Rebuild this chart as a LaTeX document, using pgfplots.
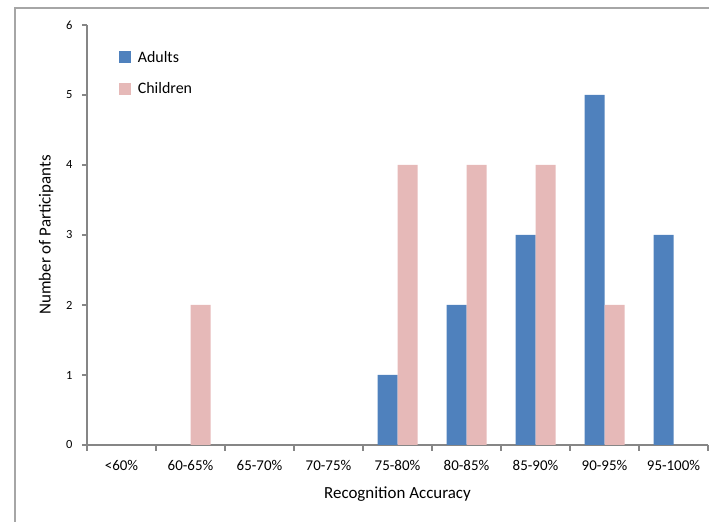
\documentclass[border=0pt]{standalone}
\usepackage{fontspec}
\setmainfont{Carlito}
\usepackage{pgfplots}
\pgfplotsset{compat=1.18}
\definecolor{adultc}{HTML}{4F81BD}
\definecolor{childc}{HTML}{E6B9B8}
\definecolor{axc}{HTML}{868686}
\begin{document}
\begin{tikzpicture}
\begin{axis}[
  at={(87bp,77bp)}, anchor=south west,
  scale only axis, width=621bp, height=420bp,
  xmin=-0.5, xmax=8.5, ymin=0, ymax=6,
  axis x line*=bottom, axis y line*=left,
  axis line style={axc, line width=1.2bp, -},
  ybar=0pt, bar width=20bp,
  xtick={0,...,8},
  xticklabels={<60\%,60-65\%,65-70\%,70-75\%,75-80\%,80-85\%,85-90\%,90-95\%,95-100\%},
  minor xtick={-0.5,0.5,...,8.5},
  major x tick style={draw=none},
  minor x tick style={axc, line width=1.2bp},
  minor tick length=6bp,
  ytick={0,...,6},
  major y tick style={axc, line width=1.2bp},
  major tick length=5bp,
  tick align=outside, tick pos=left,
  /pgf/number format/assume math mode=true,
  xticklabel style={font=\fontsize{15}{18}\selectfont, yshift=-7bp},
  yticklabel style={font=\fontsize{12.5}{14}\selectfont, xshift=-6bp},
  xlabel={Recognition Accuracy},
  ylabel={Number of Participants},
  xlabel style={font=\fontsize{17}{20}\selectfont, at={(axis description cs:0.5,-0.116)}, anchor=center},
  ylabel style={font=\fontsize{17}{20}\selectfont, at={(axis description cs:-0.066,0.5)}, anchor=center, rotate=0},
  legend style={draw=none, fill=none, at={(axis description cs:0.051,0.943)}, anchor=north west,
    font=\fontsize{16}{19}\selectfont, row sep=15bp, inner sep=0pt},
  legend cell align=left,
  legend image code/.code={\fill[#1] (0bp,-6bp) rectangle (12bp,6bp); \path (17bp,0bp);},
]
\addplot[fill=adultc, draw=none] coordinates {(4,1) (5,2) (6,3) (7,5) (8,3)};
\addplot[fill=childc, draw=none] coordinates {(1,2) (4,4) (5,4) (6,4) (7,2)};
\legend{Adults,Children}
\end{axis}
\draw[gray!70, line width=1.5bp] (15bp,0bp) -- (15bp,514bp) -- (709bp,514bp);
\pgfresetboundingbox
\useasboundingbox (0bp,0bp) rectangle (709bp,522bp);
\end{tikzpicture}
\end{document}
